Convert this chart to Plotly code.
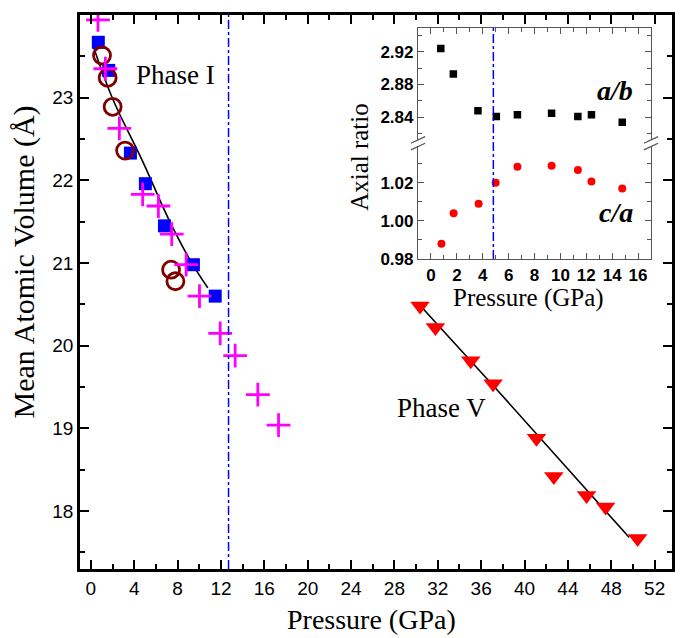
import plotly.graph_objects as go

# ---------------- main panel data ----------------
sq_p = [0.69, 1.65, 3.65, 5.03, 6.79, 9.46, 11.47]
sq_v = [23.67, 23.33, 22.33, 21.96, 21.45, 20.98, 20.60]

circ_p = [1.03, 1.55, 2.01, 3.16, 7.40, 7.80]
circ_v = [23.51, 23.24, 22.89, 22.36, 20.92, 20.78]

cross_p = [0.66, 1.34, 2.63, 4.78, 6.23, 7.46, 8.79, 10.02, 11.93, 13.31, 15.40, 17.31]
cross_v = [23.94, 23.35, 22.63, 21.83, 21.69, 21.35, 20.98, 20.60, 20.15, 19.88, 19.41, 19.04]

tri_p = [30.36, 31.78, 35.04, 37.10, 41.10, 42.70, 45.72, 47.48, 50.43]
tri_v = [20.48, 20.22, 19.82, 19.54, 18.88, 18.42, 18.19, 18.05, 17.67]

fit1_p = [0.2, 2.0, 4.78, 7.25, 9.4, 10.79]
fit1_v = [23.63, 22.99, 22.23, 21.51, 20.98, 20.70]

fit5_p = [30.2, 37.1, 49.66]
fit5_v = [20.51, 19.52, 17.68]

main_transition = 12.7
x_ticks = list(range(0, 53, 4))
y_ticks = [18, 19, 20, 21, 22, 23, 24]

# ---------------- inset data ----------------
ab_p = [0.76, 1.73, 3.63, 5.05, 6.68, 9.32, 11.35, 12.40, 14.78]
ab_r = [2.924, 2.893, 2.848, 2.841, 2.843, 2.845, 2.841, 2.843, 2.834]

ca_p = [0.81, 1.75, 3.68, 5.00, 6.68, 9.32, 11.35, 12.40, 14.78]
ca_r = [0.988, 1.004, 1.009, 1.020, 1.0284, 1.0288, 1.0266, 1.0206, 1.0169]

inset_transition = 4.82
inset_x_ticks = list(range(0, 17, 2))
inset_low_ticks = [0.98, 1.00, 1.02]
inset_up_ticks = [2.84, 2.88, 2.92]

serif = "Liberation Serif"
sans = "Liberation Sans"

fig = go.Figure()

fig.add_trace(go.Scatter(x=fit1_p, y=fit1_v, mode="lines", line=dict(color="black", width=1.6, shape="spline"), showlegend=False))
fig.add_trace(go.Scatter(x=fit5_p, y=fit5_v, mode="lines", line=dict(color="black", width=1.6), showlegend=False))
fig.add_trace(go.Scatter(x=sq_p, y=sq_v, mode="markers", marker=dict(symbol="square", size=13, color="#0000ff"), showlegend=False))
fig.add_trace(go.Scatter(x=circ_p, y=circ_v, mode="markers", marker=dict(symbol="circle-open", size=17, color="#800000", line=dict(width=2.8)), showlegend=False))
fig.add_trace(go.Scatter(x=cross_p, y=cross_v, mode="markers", marker=dict(symbol="cross-thin-open", size=17, color="#ff00ff", line=dict(width=2.8, color="#ff00ff")), showlegend=False))
fig.add_trace(go.Scatter(x=tri_p, y=tri_v, mode="markers", marker=dict(symbol="triangle-down", size=17, color="#ff0000"), showlegend=False))

# inset traces
fig.add_trace(go.Scatter(x=ca_p, y=ca_r, xaxis="x2", yaxis="y2", mode="markers", marker=dict(symbol="circle", size=8, color="#ff0000"), showlegend=False))
fig.add_trace(go.Scatter(x=ab_p, y=ab_r, xaxis="x3", yaxis="y3", mode="markers", marker=dict(symbol="square", size=7.5, color="black"), showlegend=False))

axis_main = dict(showline=True, linecolor="black", linewidth=2.8, mirror="allticks",
                 ticks="inside", ticklen=9, tickwidth=2, tickcolor="black",
                 showgrid=False, zeroline=False, automargin=False,
                 tickfont=dict(family=sans, size=19, color="black"))

inset_dom_x = [0.571, 0.9645]
low_dom = [0.5596, 0.7635]
up_dom = [0.774, 0.9765]
gray = "#555555"
axis_inset = dict(showline=True, linecolor=gray, linewidth=1.3, ticks="inside", ticklen=6,
                  tickwidth=1.2, tickcolor=gray, showgrid=False, zeroline=False, automargin=False,
                  tickfont=dict(family=sans, size=17, color="black", weight="bold"))

# page body has an 8px margin, so the figure is shrunk by that amount
fig.update_layout(
    width=677, height=630,
    margin=dict(l=72, r=13, t=7, b=69),
    plot_bgcolor="white", paper_bgcolor="white",
    xaxis=dict(axis_main, range=[-1, 53.6], tickvals=x_ticks,
               minor=dict(ticks="inside", ticklen=5, tickwidth=2, dtick=2, tick0=0, tickcolor="black")),
    yaxis=dict(axis_main, range=[17.3, 24.0], tickvals=y_ticks,
               minor=dict(ticks="inside", ticklen=5, tickwidth=2, dtick=0.5, tick0=0, tickcolor="black")),
    xaxis2=dict(axis_inset, domain=inset_dom_x, anchor="y2", range=[-1, 17], tickvals=inset_x_ticks,
                minor=dict(ticks="inside", ticklen=4, dtick=1, tick0=0, tickcolor=gray)),
    xaxis3=dict(axis_inset, domain=inset_dom_x, anchor="y3", side="top", matches="x2",
                range=[-1, 17], tickvals=inset_x_ticks, showticklabels=False,
                minor=dict(ticks="inside", ticklen=4, dtick=1, tick0=0, tickcolor=gray)),
    yaxis2=dict(axis_inset, domain=low_dom, anchor="x2", range=[0.98, 1.0392], tickvals=inset_low_ticks,
                tickformat=".2f", mirror="ticks",
                minor=dict(ticks="inside", ticklen=4, dtick=0.01, tick0=0, tickcolor=gray)),
    yaxis3=dict(axis_inset, domain=up_dom, anchor="x3", range=[2.812, 2.949], tickvals=inset_up_ticks,
                tickformat=".2f", mirror="ticks",
                minor=dict(ticks="inside", ticklen=4, dtick=0.02, tick0=0, tickcolor=gray)),
)

# axis titles (as annotations for exact placement)
fig.add_annotation(text="Pressure (GPa)", xref="paper", yref="paper", x=0.4916, y=-0.092,
                   xanchor="center", yanchor="middle", showarrow=False, borderpad=0,
                   font=dict(family=serif, size=28, color="black"))
fig.add_annotation(text="Mean Atomic Volume (Å)", xref="paper", yref="paper", x=-0.094, y=0.554,
                   xanchor="center", yanchor="middle", textangle=-90, showarrow=False, borderpad=0,
                   font=dict(family=serif, size=30, color="black"))
fig.add_annotation(text="Pressure (GPa)", xref="paper", yref="paper", x=0.757, y=0.489,
                   xanchor="center", yanchor="middle", showarrow=False,
                   font=dict(family=serif, size=25, color="black"))
fig.add_annotation(text="Axial ratio", xref="paper", yref="paper", x=0.473, y=0.744,
                   xanchor="center", yanchor="middle", textangle=-90, showarrow=False,
                   font=dict(family=serif, size=25, color="black"))

# break marks
for xb in inset_dom_x:
    for dy in (-0.006, 0.006):
        fig.add_shape(type="line", xref="paper", yref="paper",
                      x0=xb - 0.012, x1=xb + 0.012, y0=0.7685 + dy - 0.006, y1=0.7685 + dy + 0.006,
                      line=dict(color=gray, width=1.3))

# transition lines
fig.add_shape(type="line", xref="x", yref="paper", x0=main_transition, x1=main_transition, y0=0, y1=1,
              line=dict(color="#0000ff", width=1.5, dash="dashdot"))
fig.add_shape(type="line", xref="x2", yref="paper", x0=inset_transition, x1=inset_transition,
              y0=low_dom[0], y1=up_dom[1], line=dict(color="#0000ff", width=1.5, dash="dashdot"))

# text labels
fig.add_annotation(text="Phase I", x=7.8, y=23.27, xref="x", yref="y", showarrow=False,
                   font=dict(family=serif, size=27, color="black"))
fig.add_annotation(text="Phase V", x=32.3, y=19.25, xref="x", yref="y", showarrow=False,
                   font=dict(family=serif, size=27, color="black"))
fig.add_annotation(text="<b><i>a/b</i></b>", x=14.25, y=2.873, xref="x3", yref="y3", showarrow=False,
                   font=dict(family=serif, size=28, color="black"))
fig.add_annotation(text="<b><i>c/a</i></b>", x=14.3, y=1.0042, xref="x2", yref="y2", showarrow=False,
                   font=dict(family=serif, size=28, color="black"))

fig.write_html("out.html")
